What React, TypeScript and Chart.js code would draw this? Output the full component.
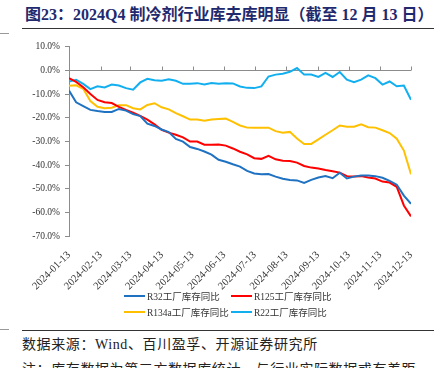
import React, { useEffect, useRef } from "react";
import { Chart, registerables } from "chart.js";
Chart.register(...registerables);

// Month tick positions (days since 2024-01-13) and their labels
const tickDays = [0, 31, 60, 91, 121, 152, 182, 213, 244, 274, 305, 335];
const tickLabels = [
  "2024-01-13", "2024-02-13", "2024-03-13", "2024-04-13", "2024-05-13", "2024-06-13",
  "2024-07-13", "2024-08-13", "2024-09-13", "2024-10-13", "2024-11-13", "2024-12-13",
];
const totalDays = 335;

// Weekly observations (49 points, 2024-01-13 .. 2024-12-13), % YoY
const r32 = [
  -8.5, -13.5, -15.1, -16.7, -17.2, -17.6, -17.6, -16.3, -17.0, -18.5,
  -19.3, -22.5, -23.5, -25.0, -26.1, -29.0, -30.1, -32.4, -33.2, -34.3,
  -35.6, -37.8, -38.6, -39.7, -40.7, -42.5, -43.6, -43.9, -43.8, -44.9,
  -45.8, -46.3, -46.5, -47.6, -46.3, -45.3, -44.7, -45.6, -43.3, -45.7,
  -44.9, -44.4, -44.4, -44.7, -45.4, -46.7, -48.3, -52.9, -56.4,
];
const r125 = [
  -3.3, -4.9, -7.1, -10.0, -12.5, -13.5, -13.8, -15.4, -16.7, -17.9,
  -19.2, -20.8, -22.8, -25.1, -26.3, -27.2, -28.3, -30.1, -30.1, -31.4,
  -31.4, -31.3, -31.8, -33.0, -34.4, -35.5, -37.1, -37.4, -36.1, -37.6,
  -38.2, -38.3, -39.0, -40.4, -41.1, -41.5, -42.1, -42.6, -43.2, -44.7,
  -44.9, -44.7, -45.3, -45.7, -47.0, -47.4, -49.2, -57.1, -61.7,
];
const r134a = [
  -6.5, -6.3, -7.8, -13.0, -15.4, -16.0, -15.8, -14.7, -14.7, -16.0,
  -16.5, -14.6, -13.9, -15.6, -16.5, -18.1, -19.4, -20.8, -20.8, -21.3,
  -20.8, -20.6, -20.4, -21.8, -23.3, -24.2, -24.3, -24.2, -24.2, -25.7,
  -26.4, -26.0, -28.8, -31.1, -31.1, -29.2, -27.2, -25.3, -23.3, -23.8,
  -23.8, -22.8, -24.0, -24.2, -25.3, -26.5, -28.9, -33.9, -43.9,
];
const r22 = [
  -4.7, -4.0, -5.7, -7.9, -6.7, -7.2, -6.0, -6.4, -7.5, -8.2,
  -5.1, -3.6, -4.2, -4.4, -3.8, -4.4, -5.7, -5.7, -5.4, -6.0,
  -5.3, -5.7, -5.4, -5.5, -6.8, -7.4, -7.5, -6.8, -2.6, -1.8,
  -1.4, -0.6, 1.0, -1.8, -1.8, -2.8, -1.1, -2.8, -0.7, -3.9,
  -5.0, -3.9, -2.1, -3.3, -6.0, -4.7, -6.7, -6.4, -12.4,
];

const seriesNames = ["R32工厂库存同比", "R125工厂库存同比", "R134a工厂库存同比", "R22工厂库存同比"];
const seriesValues = [r32, r125, r134a, r22];
const seriesColors = ["#1f72c2", "#ff0000", "#ffc000", "#12aff0"];

const yMin = -70;
const yMax = 10;

const AXIS = "#8c8c8c";
const LATIN = "'Liberation Serif', 'Noto Sans CJK SC', serif";

const zeroAxis = {
  id: "zeroAxis",
  beforeDatasetsDraw(chart: any) {
    const { ctx, chartArea, scales } = chart;
    const y0 = Math.round(scales.y.getPixelForValue(0)) + 0.5;
    ctx.save();
    ctx.strokeStyle = AXIS;
    ctx.lineWidth = 1;
    ctx.beginPath();
    ctx.moveTo(chartArea.left, y0);
    ctx.lineTo(chartArea.right, y0);
    scales.x.ticks.forEach((t: any) => {
      const x = Math.round(scales.x.getPixelForValue(t.value)) + 0.5;
      ctx.moveTo(x, y0);
      ctx.lineTo(x, y0 - 4);
    });
    ctx.stroke();
    ctx.restore();
  },
};

function LineChart() {
  const ref = useRef<HTMLCanvasElement | null>(null);
  useEffect(() => {
    if (!ref.current) return;
    const n = r32.length;
    const chart = new Chart(ref.current, {
      type: "line",
      data: {
        datasets: seriesValues.map((vals, k) => ({
          label: seriesNames[k],
          data: vals.map((v, i) => ({ x: (i * totalDays) / (n - 1), y: v })),
          borderColor: seriesColors[k],
          backgroundColor: seriesColors[k],
          borderWidth: 2,
          pointRadius: 0,
          tension: 0,
        })),
      },
      options: {
        animation: false,
        responsive: false,
        layout: { padding: { left: 0, right: 36, top: 8, bottom: 0 } },
        plugins: { legend: { display: false }, tooltip: { enabled: false } },
        scales: {
          x: {
            type: "linear",
            min: 0,
            max: totalDays,
            afterBuildTicks: (s: any) => {
              s.ticks = tickDays.map((v) => ({ value: v }));
            },
            afterFit: (s: any) => {
              s.height = 55;
            },
            ticks: {
              autoSkip: false,
              minRotation: 45,
              maxRotation: 45,
              padding: 5,
              color: "#333",
              font: { family: LATIN, size: 10.5 },
              callback: (v: any) => tickLabels[tickDays.indexOf(Number(v))] ?? "",
            },
            grid: { display: false },
            border: { display: false },
          },
          y: {
            min: yMin,
            max: yMax,
            afterFit: (s: any) => {
              s.width = 69;
            },
            ticks: {
              stepSize: 10,
              padding: 5,
              color: "#333",
              font: { family: LATIN, size: 9.5 },
              callback: (v: any) => Number(v).toFixed(1) + "%",
            },
            grid: { drawOnChartArea: false, drawTicks: true, tickLength: 4, color: AXIS },
            border: { display: true, color: AXIS },
          },
        },
      },
      plugins: [zeroAxis],
    });
    return () => chart.destroy();
  }, []);
  return (
    <canvas
      ref={ref}
      width={447}
      height={255}
      style={{ position: "absolute", left: 0, top: 36, width: 447, height: 255 }}
    />
  );
}

const legendPos = [
  { x: 124, y: 296 },
  { x: 231, y: 296 },
  { x: 124, y: 312 },
  { x: 231, y: 312 },
];

export default function App() {
  return (
    <div
      style={{
        position: "absolute",
        left: 0,
        top: 0,
        width: 447,
        height: 368,
        overflow: "hidden",
        background: "#fff",
      }}
    >
      <div
        style={{
          position: "absolute",
          left: 25,
          top: 6,
          lineHeight: "17px",
          fontSize: 16,
          fontWeight: "bold",
          fontFamily: LATIN,
          color: "#1f2a6e",
          whiteSpace: "nowrap",
        }}
      >
        图23：2024Q4 制冷剂行业库去库明显（截至 12 月 13 日）
      </div>
      <div style={{ position: "absolute", left: 22, top: 28, width: 412, height: 1, background: "#333" }} />
      <div style={{ position: "absolute", left: 0, top: 33, width: 9, height: 1, background: "#999" }} />
      <LineChart />
      {seriesNames.map((name, k) => (
        <div
          key={name}
          style={{
            position: "absolute",
            left: legendPos[k].x,
            top: legendPos[k].y - 7,
            height: 14,
            display: "flex",
            alignItems: "center",
            whiteSpace: "nowrap",
            fontFamily: LATIN,
            fontSize: 9.5,
            color: "#333",
          }}
        >
          <span style={{ display: "inline-block", width: 21, height: 2, background: seriesColors[k], marginRight: 2 }} />
          <span>{name}</span>
        </div>
      ))}
      <div style={{ position: "absolute", left: 22, top: 330, width: 412, height: 1, background: "#333" }} />
      <div style={{ position: "absolute", left: 0, top: 329, width: 9, height: 1, background: "#999" }} />
      <div
        style={{
          position: "absolute",
          left: 22,
          top: 336,
          fontSize: 14,
          lineHeight: "18px",
          fontFamily: LATIN,
          color: "#222",
          whiteSpace: "nowrap",
          letterSpacing: 0.6,
        }}
      >
        数据来源：Wind、百川盈孚、开源证券研究所
      </div>
      <div
        style={{
          position: "absolute",
          left: 22,
          top: 361,
          fontSize: 14,
          lineHeight: "18px",
          fontFamily: LATIN,
          color: "#222",
          whiteSpace: "nowrap",
          letterSpacing: 0.6,
        }}
      >
        注：库存数据为第三方数据库统计，与行业实际数据或有差距
      </div>
    </div>
  );
}
